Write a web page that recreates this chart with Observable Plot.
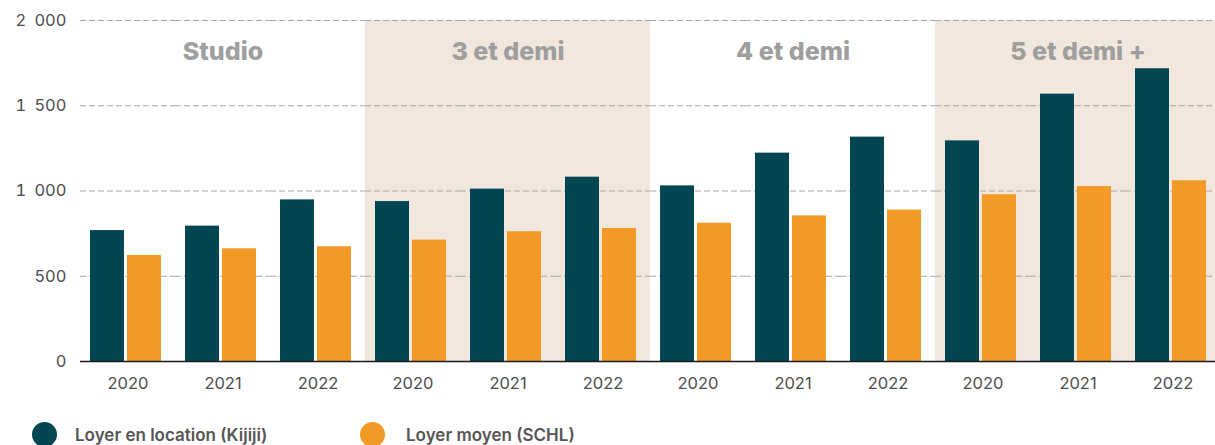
<!DOCTYPE html>
<html><head><meta charset="utf-8">
<script src="https://cdn.jsdelivr.net/npm/d3@7"></script>
<script src="https://cdn.jsdelivr.net/npm/@observablehq/plot@0.6"></script>
<style>
body{margin:0;overflow:hidden;background:#fff;font-family:Inter,"Noto Sans",sans-serif;}
#chart svg{display:block;max-width:none !important;}
#legend{position:relative;height:40px;width:1215px;}
.sw{position:absolute;top:16.5px;width:25px;height:25px;border-radius:50%;}
.lt{position:absolute;top:20px;font-size:17px;font-weight:600;color:#555;line-height:20px;white-space:nowrap;}
</style></head><body><div id="chart"></div><div id="legend"></div>
<script>
const groups = ["Studio", "3 et demi", "4 et demi", "5 et demi +"];
const years = ["2020", "2021", "2022"];
const series = ["Loyer en location (Kijiji)", "Loyer moyen (SCHL)"];
const kijiji = [768, 794, 948, 938, 1011, 1081, 1030, 1222, 1316, 1294, 1568, 1717];
const schl = [622, 661, 673, 712, 761, 780, 811, 854, 888, 978, 1026, 1060];
const shadedGroups = ["3 et demi", "5 et demi +"];
const yTicks = [0, 500, 1000, 1500, 2000];
const colors = ["#024654", "#f39926"];

const keys = groups.flatMap(g => years.map(y => g + "|" + y));
const rows = [];
groups.forEach((g, gi) => years.forEach((y, yi) => {
  const i = gi * years.length + yi;
  rows.push({key: g + "|" + y, series: series[0], value: kijiji[i]});
  rows.push({key: g + "|" + y, series: series[1], value: schl[i]});
}));
const shade = keys.filter(k => shadedGroups.includes(k.split("|")[0])).map(k => ({key: k}));
const labels = groups.map(g => ({key: g + "|" + years[1], text: g}));
const fmt = d => d3.format(",")(d).replace(/,/g, "\u2002");

const plot = Plot.plot({
  width: 1220, height: 405,
  marginLeft: 80, marginRight: 0, marginTop: 20, marginBottom: 44,
  style: {fontFamily: "Inter, 'Noto Sans', sans-serif", fontSize: "16.5px", color: "#4d4d4d", background: "#fff", maxWidth: "none"},
  fx: {domain: keys, padding: 0, label: null, axis: null},
  x: {domain: series, axis: null, paddingInner: 0.081, paddingOuter: 0.324, align: 0.42},
  y: {domain: [0, 2000], axis: null, label: null},
  color: {domain: series, range: colors},
  marks: [
    Plot.rect(shade, {fx: "key", y1: 0, y2: 2000, fill: "#f1e7dc"}),
    Plot.gridY(yTicks, {stroke: "#a8a8a8", strokeOpacity: 1, strokeDasharray: "6,3"}),
    Plot.barY(rows, {fx: "key", x: "series", y: "value", fill: "series"}),
    Plot.ruleY([0], {stroke: "#1a1a1a", strokeWidth: 1.5}),
    Plot.text(labels, {fx: "key", text: "text", frameAnchor: "top", dy: 22, fontSize: 25, fontWeight: 800, fill: "#9e9e9e"}),
    Plot.axisY(yTicks, {tickSize: 0, tickPadding: 14, tickFormat: fmt, label: null, fontSize: 16.5}),
    Plot.axisFx({anchor: "bottom", tickSize: 0, tickPadding: 16, tickFormat: k => k.split("|")[1], label: null, fontSize: 16.5})
  ]
});
document.getElementById("chart").appendChild(plot);

const legend = document.getElementById("legend");
const pos = [{c: 32, t: 75}, {c: 360, t: 406}];
series.forEach((s, i) => {
  const sw = document.createElement("div");
  sw.className = "sw"; sw.style.left = pos[i].c + "px"; sw.style.background = colors[i];
  const t = document.createElement("div");
  t.className = "lt"; t.style.left = pos[i].t + "px"; t.textContent = s;
  legend.appendChild(sw); legend.appendChild(t);
});
</script></body></html>
